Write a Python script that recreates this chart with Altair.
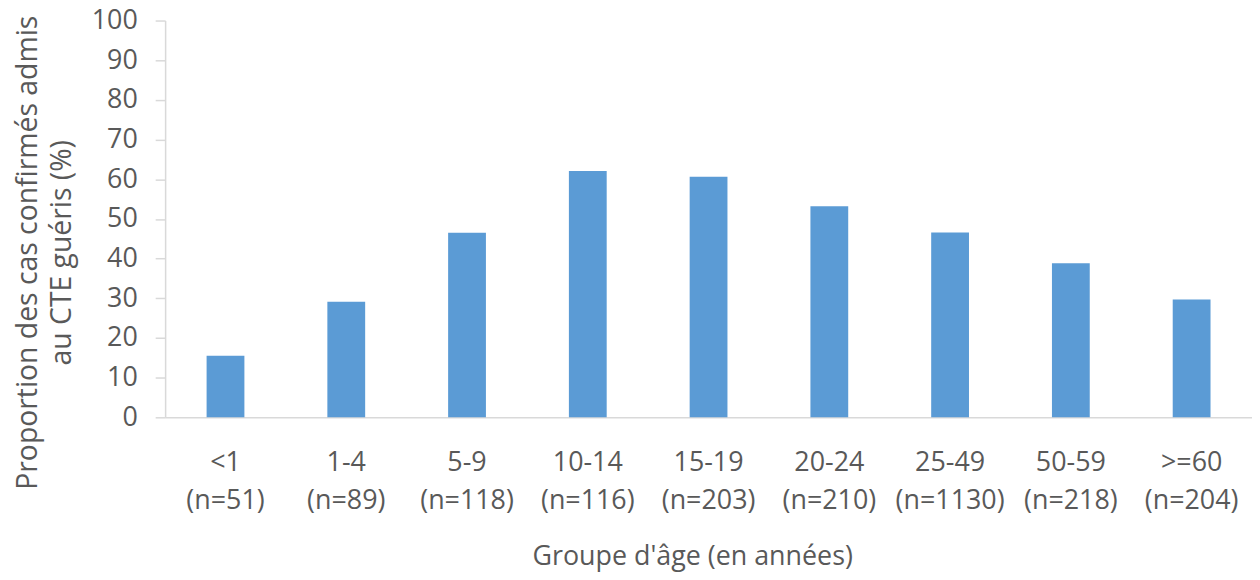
import altair as alt
import pandas as pd

groups = ["<1", "1-4", "5-9", "10-14", "15-19", "20-24", "25-49", "50-59", ">=60"]
counts = [51, 89, 118, 116, 203, 210, 1130, 218, 204]
values = [15.5, 29.1, 46.5, 62.1, 60.6, 53.2, 46.6, 38.8, 29.7]

labels = [f"{g}\n(n={n})" for g, n in zip(groups, counts)]
df = pd.DataFrame({"label": labels, "value": values})

FONT = "Open Sans"
TXT = "#595959"
AX = "#d9d9d9"
FS = 27

chart = alt.Chart(df).mark_bar(color="#5b9bd5").encode(
    x=alt.X(
        "label:N",
        sort=labels,
        scale=alt.Scale(paddingInner=0.687, paddingOuter=0.3435),
        axis=alt.Axis(
            title="Groupe d'âge (en années)",
            labelExpr="split(datum.label, '\\n')",
            labelAngle=0,
            labelLineHeight=38,
            labelBaseline="top",
            labelPadding=33,
            ticks=False,
            domainColor=AX,
            domainWidth=1.5,
            labelColor=TXT,
            labelFontSize=FS,
            labelFont=FONT,
            titleColor=TXT,
            titleFont=FONT,
            titleFontSize=FS,
            titleFontWeight="normal",
            titleX=530,
            titleY=140,
            titleBaseline="middle",
        ),
    ),
    y=alt.Y(
        "value:Q",
        scale=alt.Scale(domain=[0, 100], nice=False),
        axis=alt.Axis(
            title=["Proportion des cas confirmés admis", "au CTE guéris (%)"],
            values=list(range(0, 101, 10)),
            grid=False,
            domainColor=AX,
            domainWidth=1.5,
            tickColor=AX,
            tickWidth=1.5,
            tickSize=10,
            labelPadding=18,
            labelColor=TXT,
            labelFontSize=FS,
            labelFont=FONT,
            titleColor=TXT,
            titleFont=FONT,
            titleFontSize=28.5,
            titleFontWeight="normal",
            titleLineHeight=34,
            titleX=-138,
            titleY=233,
            titleAngle=-90,
            titleAlign="center",
            titleBaseline="middle",
        ),
    ),
).properties(
    width=1093,
    height=399,
    autosize=alt.AutoSizeParams(type="none"),
    padding={"left": 158, "top": 11, "right": 0, "bottom": 161},
).configure_view(stroke=None)

chart.save("out.html", embed_options={"renderer": "svg", "actions": False})
